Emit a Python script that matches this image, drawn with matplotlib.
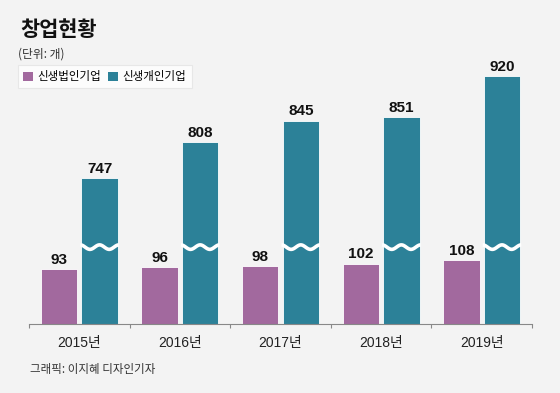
import numpy as np
import matplotlib
matplotlib.use("Agg")
import matplotlib.pyplot as plt
from matplotlib.patches import Patch

plt.rcParams['font.family'] = ['Liberation Sans', 'Noto Sans CJK KR', 'DejaVu Sans']

years = ["2015년", "2016년", "2017년", "2018년", "2019년"]
corp = [93, 96, 98, 102, 108]        # 신생법인기업
indiv = [747, 808, 845, 851, 920]    # 신생개인기업
names = ["신생법인기업", "신생개인기업"]

purple = "#a2699e"
teal = "#2c8198"
bg = "#f3f3f3"

# broken y axis: values above BRK are shifted down by CUT
BRK, CUT, k = 140.0, 500.0, 0.001

def fwd(y):
    y = np.asarray(y, float)
    return np.where(y < BRK, y, np.where(y < BRK + CUT, BRK + (y - BRK) * k, y - CUT + CUT * k))

def inv(s):
    s = np.asarray(s, float)
    top = BRK + CUT * k
    return np.where(s < BRK, s, np.where(s < top, BRK + (s - BRK) / k, s + CUT - CUT * k))

fig = plt.figure(figsize=(5.6, 3.93), dpi=100, facecolor=bg)
ax = fig.add_axes([29/560, 69.5/393, 503/560, 263.5/393])
ax.set_facecolor(bg)
ax.set_yscale('function', functions=(fwd, inv))

x = np.arange(len(years))
w = 0.363
off = 0.2015
b1 = ax.bar(x - off, corp, w, color=purple, edgecolor="white", linewidth=0.6)
b2 = ax.bar(x + off, indiv, w, color=teal, edgecolor="white", linewidth=0.6)

for bars, vals in ((b1, corp), (b2, indiv)):
    for r, v in zip(bars, vals):
        ax.annotate(str(v), (r.get_x() + r.get_width()/2, v), xytext=(0, 1.5),
                    textcoords="offset points", ha="center", va="bottom",
                    fontsize=11, fontweight="bold", color="#111")

# wavy break marks on the tall bars
t = np.linspace(0, 1, 80)
for r in b2:
    xs = r.get_x() - 0.01 + t * (r.get_width() + 0.02)
    ys = 130 + 3.8 * np.cos(2 * np.pi * 2 * t)
    ax.plot(xs, ys, color="white", lw=2.6, solid_capstyle="butt")

ax.set_xlim(-0.5, len(years) - 0.5)
ax.set_ylim(0, 948)
ax.set_xticks(np.arange(-0.5, len(years), 1))
ax.set_xticklabels([])
ax.set_xticks(x, minor=True)
ax.set_xticklabels(years, minor=True, fontsize=10, color="#222")
ax.tick_params(axis="x", which="major", length=3, width=0.8, color="#888")
ax.tick_params(axis="x", which="minor", length=0, pad=9)
ax.set_yticks([])
for s in ("top", "right", "left"):
    ax.spines[s].set_visible(False)
ax.spines["bottom"].set_color("#888")
ax.spines["bottom"].set_linewidth(0.8)

fig.text(20/560, 1 - 36/393, "창업현황", fontsize=15, fontweight="bold",
         family="Noto Sans CJK KR", color="#111")
fig.text(18/560, 1 - 58/393, "(단위: 개)", fontsize=8.5, family="Noto Sans CJK KR", color="#333")
fig.text(30/560, 1 - 373/393, "그래픽: 이지혜 디자인기자", fontsize=8.3,
         family="Noto Sans CJK KR", color="#333")

handles = [Patch(facecolor=purple), Patch(facecolor=teal)]
leg = fig.legend(handles, names, loc="upper left", bbox_to_anchor=(18/560, 1 - 65/393),
                 ncol=2, frameon=True, fancybox=False, facecolor="white", edgecolor="#e4e4e4",
                 prop={"family": "Noto Sans CJK KR", "size": 8.3}, handlelength=0.85,
                 handleheight=0.85, handletextpad=0.4, columnspacing=0.6,
                 borderpad=0.45, borderaxespad=0)
leg.get_frame().set_linewidth(0.8)

fig.savefig("out.png", dpi=100, facecolor=bg)
